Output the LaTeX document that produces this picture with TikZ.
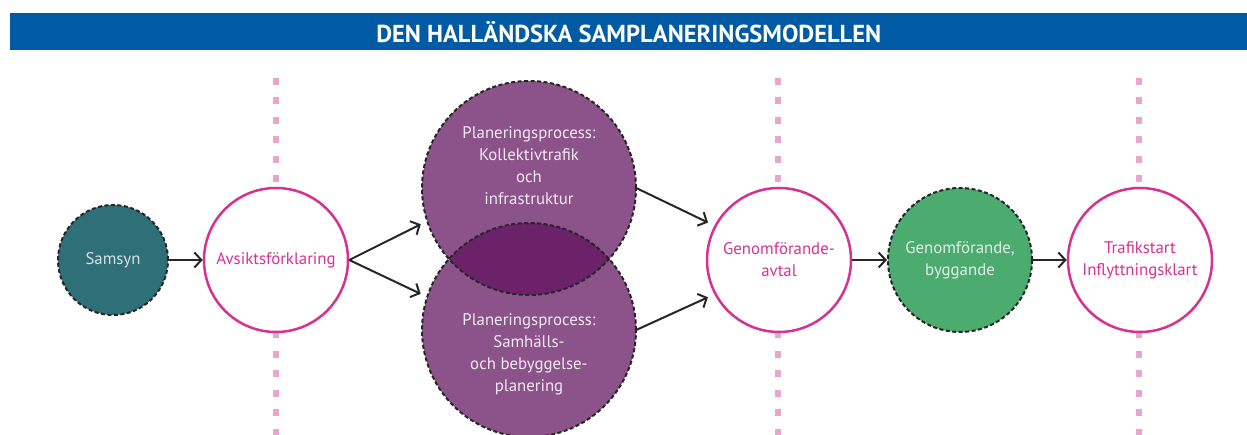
\documentclass[tikz,border=0pt]{standalone}
\usepackage{fontspec}
\setmainfont{PT Sans}
\usetikzlibrary{positioning,arrows.meta}
\definecolor{hbblue}{RGB}{0,91,164}
\definecolor{hbpink}{RGB}{214,50,146}
\definecolor{hbguide}{RGB}{232,166,206}
\definecolor{hbteal}{RGB}{47,111,120}
\definecolor{hbgreen}{RGB}{76,171,110}
\definecolor{hbpurple}{RGB}{140,82,138}
\definecolor{hblens}{RGB}{107,34,105}

\begin{document}
\begin{tikzpicture}[x=1pt, y=1pt,
    >={Straight Barb[length=7pt,width=15pt]},
    every node/.style={font=\fontsize{16.8}{22}\selectfont, align=center},
    dashcircle/.style={circle, draw=black!85, line width=2pt,
        dash pattern=on 4pt off 2.5pt, inner sep=0pt},
    milestone/.style={circle, draw=hbpink, fill=white, line width=2.5pt,
        minimum size=144pt, inner sep=0pt, text=hbpink},
    flow/.style={->, line width=2pt, draw=black!85},
    guide/.style={draw=hbguide, line width=6.5pt, dash pattern=on 7pt off 12.5pt}]
    \useasboundingbox (0,0) rectangle (1247,435);

    % header
    \node[fill=hbblue, minimum width=1237pt, minimum height=37pt, inner sep=0pt,
        anchor=north west, text=white,
        font=\fontsize{24.5}{25}\bfseries\selectfont] (title) at (10,422)
        {DEN HALLÄNDSKA SAMPLANERINGSMODELLEN};

    % milestone guides
    \foreach \x in {276,778,1139} {
        \draw[guide] (\x,357) -- (\x,0);
    }

    % steps
    \node[dashcircle, fill=hbteal, minimum size=110pt, text=hbteal!20] (samsyn) at (113,175) {Samsyn};
    \node[milestone] (avsikt) at (276,175) {Avsiktsförklaring};

    % overlapping planning processes
    \node[circle, fill=hbpurple, minimum size=214pt] (plan1) at (529,247) {};
    \node[circle, fill=hbpurple, minimum size=214pt] (plan2) at (529,105) {};
    \begin{scope}
        \clip (plan1.center) circle (107);
        \fill[hblens] (plan2.center) circle (107);
    \end{scope}
    \node[dashcircle, minimum size=214pt] at (plan1) {};
    \node[dashcircle, minimum size=214pt] at (plan2) {};
    \node[text=hbpurple!12] (plan1txt) at ([yshift=22pt]plan1.center)
        {Planeringsprocess:\\Kollektivtrafik\\och\\infrastruktur};
    \node[text=hbpurple!12] (plan2txt) at ([yshift=-24pt]plan2.center)
        {Planeringsprocess:\\Samhälls-\\och bebyggelse-\\planering};

    \node[milestone] (avtal) at (779,175) {Genomförande-\\avtal};
    \node[dashcircle, fill=hbgreen, minimum size=144pt, text=hbgreen!18] (bygg) at (960,175)
        {Genomförande,\\byggande};
    \node[milestone] (traf) at (1140,175) {Trafikstart\\Inflyttningsklart};

    % arrows
    \draw[flow] (samsyn) -- (avsikt);
    \draw[flow, shorten >=7pt] (avsikt.east) -- (plan1.198);
    \draw[flow, shorten >=7pt] (avsikt.east) -- (plan2.162);
    \draw[flow, shorten >=7pt] (plan1.east) -- (avtal.152);
    \draw[flow, shorten >=7pt] (plan2.east) -- (avtal.208);
    \draw[flow] (avtal) -- (bygg);
    \draw[flow] (bygg) -- (traf);
\end{tikzpicture}
\end{document}
